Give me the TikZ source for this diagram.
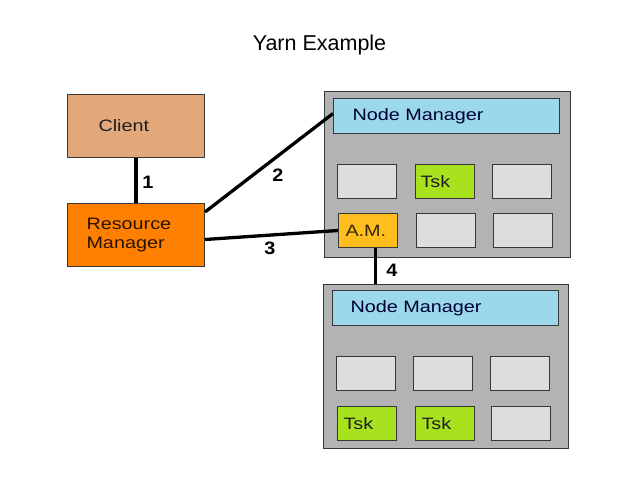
\documentclass[tikz,border=0pt]{standalone}
\usepackage{fontspec}
\setmainfont{Liberation Sans}
\newfontfamily\boxfont[FakeStretch=1.2]{Liberation Sans}
\newfontfamily\numfont[FakeStretch=1.1]{Liberation Sans}
\definecolor{clientc}{RGB}{227,168,122}
\definecolor{rmc}{RGB}{255,128,0}
\definecolor{outerc}{RGB}{179,179,179}
\definecolor{cellc}{RGB}{221,221,221}
\definecolor{nmc}{RGB}{155,217,234}
\definecolor{tskc}{RGB}{168,226,30}
\definecolor{amc}{RGB}{255,190,30}
\definecolor{edgec}{RGB}{55,55,55}
\definecolor{txtc}{RGB}{30,30,30}
\tikzset{
  box/.style={draw=edgec, line width=1pt, anchor=north west, inner ysep=0pt,
    font=\boxfont\fontsize{16.5}{19}\selectfont, text=txtc, align=left},
  outerbox/.style={box, fill=outerc},
  cell/.style={box, fill=cellc, minimum width=59pt, minimum height=34pt},
  conn/.style={line width=3.3pt, black},
  num/.style={font=\numfont\bfseries\fontsize{18}{20}\selectfont, inner sep=0pt}
}
\begin{document}
\begin{tikzpicture}[x=1pt,y=-1pt]
\useasboundingbox (0,0) rectangle (638,479);
\node[font=\fontsize{21.5}{24}\selectfont] (title) at (319.5,45) {Yarn Example};

\node[box, fill=clientc, minimum width=137pt, minimum height=63pt, inner xsep=31pt, text width=75pt] (client) at (67,94) {Client};
\node[box, fill=rmc, minimum width=137pt, minimum height=63pt, inner xsep=19pt, text width=99pt, text=black!85!rmc] (rm) at (67,203) {Resource\\Manager};

% top node
\node[outerbox, minimum width=246pt, minimum height=166pt] (out1) at (324,91) {};
\node[box, fill=nmc, minimum width=226pt, minimum height=35pt, inner xsep=19pt, text width=188pt, text=black!80!blue] (nm1) at (333,98) {Node Manager};
\node[cell] (c11) at (337,164) {};
\node[cell, fill=tskc, inner xsep=5pt, text width=49pt] (c12) at (415,164) {Tsk};
\node[cell] (c13) at (492,164) {};
\node[cell, fill=amc, inner xsep=7pt, text width=45pt, text=black!80!amc] (am) at (338,213) {A.M.};
\node[cell] (c22) at (416,213) {};
\node[cell] (c23) at (493,213) {};

% bottom node
\node[outerbox, minimum width=245pt, minimum height=164pt] (out2) at (323,284) {};
\node[box, fill=nmc, minimum width=226pt, minimum height=35pt, inner xsep=18pt, text width=190pt, text=black!80!blue] (nm2) at (332,290) {Node Manager};
\node[cell] (d11) at (336,356) {};
\node[cell] (d12) at (413,356) {};
\node[cell] (d13) at (490,356) {};
\node[cell, fill=tskc, inner xsep=6pt, text width=47pt] (d21) at (337,406) {Tsk};
\node[cell, fill=tskc, inner xsep=6pt, text width=47pt] (d22) at (415,406) {Tsk};
\node[cell] (d23) at (491,406) {};

% connectors
\draw[conn] (client.south) -- (rm.north);
\draw[conn] ([yshift=-9pt]rm.north east) -- ([yshift=2.5pt]nm1.west);
\draw[conn] ([yshift=-4.5pt]rm.east) -- (am.west);
\draw[conn] ([xshift=7.5pt]am.south) -- ([xshift=7.5pt]am.south |- out2.north);

\node[num] (n1) at (148,182) {1};
\node[num] (n2) at (278,175) {2};
\node[num] (n3) at (270,248) {3};
\node[num] (n4) at (392,270) {4};
\end{tikzpicture}
\end{document}
